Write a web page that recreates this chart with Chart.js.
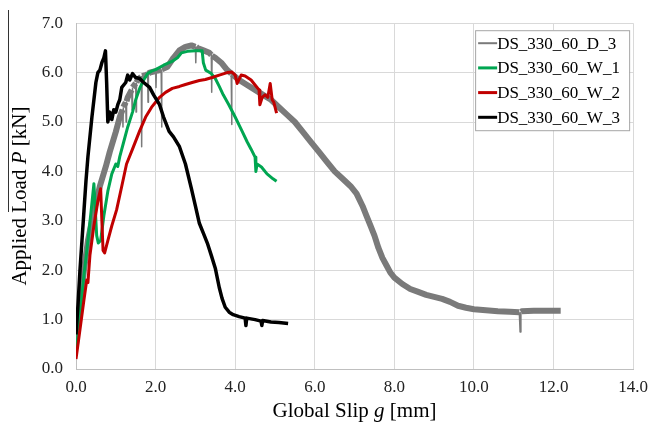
<!DOCTYPE html>
<html>
<head>
<meta charset="utf-8">
<script src="https://cdn.jsdelivr.net/npm/chart.js@4/dist/chart.umd.min.js"></script>
<style>
  body { margin: 0; background: #fff; }
  #chart { display: block; }
</style>
</head>
<body>
<canvas id="chart" width="656" height="427"></canvas>
<script>
// series names
var seriesNames = ['DS_330_60_D_3', 'DS_330_60_W_1', 'DS_330_60_W_2', 'DS_330_60_W_3'];
var seriesColors = ['#7a7a7a', '#00a651', '#c00000', '#000000'];

// DS_330_60_D_3 (grey, noisy band)
var slipD3 = [0, 0.1, 0.2, 0.3, 0.45, 0.6, 0.75, 0.85, 1.0, 1.1, 1.17, 1.18, 1.19, 1.25, 1.26, 1.27, 1.3, 1.4, 1.41, 1.42, 1.5, 1.51, 1.52, 1.55, 1.64, 1.65, 1.66, 1.75, 1.8, 1.81, 1.82, 1.85, 1.95, 2.0, 2.01, 2.02, 2.05, 2.14, 2.15, 2.16, 2.3, 2.45, 2.6, 2.75, 2.9, 3.0, 3.01, 3.02, 3.05, 3.2, 3.35, 3.4, 3.41, 3.42, 3.5, 3.65, 3.8, 3.9, 3.91, 3.92, 3.95, 4.1, 4.3, 4.5, 4.7, 4.9, 5.1, 5.3, 5.5, 5.7, 5.9, 6.1, 6.3, 6.5, 6.7, 6.9, 7.05, 7.2, 7.3, 7.4, 7.5, 7.6, 7.7, 7.8, 7.9, 8.0, 8.2, 8.4, 8.6, 8.8, 9.0, 9.2, 9.4, 9.6, 9.8, 10.0, 10.3, 10.6, 10.9, 11.14, 11.16, 11.18, 11.2, 11.5, 11.8, 12.18];
var loadD3 = [0.5, 1.3, 2.0, 2.6, 3.2, 3.7, 4.1, 4.4, 4.8, 5.1, 5.25, 4.9, 5.3, 5.4, 5.0, 5.42, 5.5, 5.65, 5.25, 5.7, 5.78, 5.2, 5.8, 5.85, 5.92, 4.5, 5.93, 5.95, 5.97, 5.4, 5.98, 6.0, 6.02, 6.03, 5.7, 6.03, 6.04, 6.05, 4.9, 6.07, 6.12, 6.3, 6.45, 6.52, 6.55, 6.52, 6.2, 6.52, 6.5, 6.45, 6.4, 6.36, 5.6, 6.34, 6.3, 6.2, 6.05, 5.98, 4.95, 5.97, 5.95, 5.85, 5.75, 5.65, 5.55, 5.45, 5.3, 5.15, 5.0, 4.8, 4.6, 4.4, 4.2, 4.0, 3.85, 3.7, 3.55, 3.3, 3.1, 2.9, 2.7, 2.45, 2.25, 2.1, 1.95, 1.85, 1.72, 1.62, 1.56, 1.5, 1.46, 1.42, 1.36, 1.28, 1.24, 1.21, 1.19, 1.17, 1.16, 1.15, 0.75, 1.16, 1.17, 1.18, 1.18, 1.18];

// DS_330_60_W_1 (green)
var slipW1 = [0, 0.1, 0.2, 0.3, 0.38, 0.45, 0.48, 0.52, 0.56, 0.62, 0.7, 0.8, 0.9, 1.0, 1.05, 1.1, 1.2, 1.3, 1.42, 1.5, 1.6, 1.7, 1.8, 1.9, 2.0, 2.2, 2.4, 2.55, 2.65, 2.8, 3.0, 3.17, 3.2, 3.26, 3.4, 3.5, 3.6, 3.7, 3.84, 4.0, 4.17, 4.3, 4.4, 4.5, 4.52, 4.55, 4.66, 4.8, 4.95, 5.04];
var loadW1 = [0.3, 1.1, 1.9, 2.6, 3.2, 3.75, 3.3, 2.7, 2.55, 2.6, 3.1, 3.6, 3.95, 4.15, 4.1, 4.3, 4.6, 4.9, 5.2, 5.45, 5.68, 5.85, 5.98, 6.03, 6.06, 6.15, 6.22, 6.3, 6.4, 6.43, 6.44, 6.44, 6.2, 6.05, 5.98, 5.88, 5.72, 5.55, 5.35, 5.1, 4.82, 4.6, 4.45, 4.29, 4.0, 4.15, 4.09, 3.95, 3.85, 3.8];

// DS_330_60_W_2 (red)
var slipW2 = [0, 0.1, 0.2, 0.27, 0.3, 0.35, 0.45, 0.55, 0.62, 0.65, 0.68, 0.72, 0.8, 0.9, 1.02, 1.15, 1.27, 1.42, 1.6, 1.75, 1.9, 2.0, 2.1, 2.25, 2.42, 2.6, 2.75, 2.92, 3.1, 3.25, 3.42, 3.6, 3.8, 3.92, 4.0, 4.05, 4.15, 4.25, 4.4, 4.5, 4.6, 4.62, 4.68, 4.75, 4.82, 4.88, 4.93, 4.97, 5.04];
var loadW2 = [0.2, 0.8, 1.4, 1.8, 1.75, 2.3, 2.9, 3.4, 3.65, 3.0, 2.4, 2.35, 2.6, 2.9, 3.22, 3.7, 4.15, 4.45, 4.82, 5.1, 5.3, 5.4, 5.5, 5.6, 5.68, 5.72, 5.76, 5.8, 5.84, 5.86, 5.9, 5.95, 6.0, 6.01, 5.95, 5.78, 5.95, 5.93, 5.85, 5.75, 5.65, 5.35, 5.5, 5.55, 5.5, 5.78, 5.45, 5.4, 5.18];

// DS_330_60_W_3 (black)
var slipW3 = [0, 0.05, 0.1, 0.15, 0.2, 0.25, 0.3, 0.4, 0.5, 0.55, 0.6, 0.65, 0.7, 0.74, 0.77, 0.8, 0.85, 0.9, 0.95, 1.0, 1.05, 1.1, 1.15, 1.25, 1.3, 1.35, 1.42, 1.5, 1.6, 1.7, 1.85, 1.95, 2.1, 2.2, 2.34, 2.45, 2.6, 2.75, 2.9, 3.0, 3.1, 3.2, 3.3, 3.4, 3.5, 3.6, 3.67, 3.75, 3.85, 3.95, 4.1, 4.25, 4.27, 4.29, 4.5, 4.65, 4.67, 4.69, 4.9, 5.1, 5.33];
var loadW3 = [0.7, 1.3, 2.0, 2.6, 3.2, 3.8, 4.3, 5.1, 5.8, 6.0, 6.05, 6.2, 6.3, 6.44, 5.8, 5.0, 5.2, 5.05, 5.25, 5.2, 5.35, 5.45, 5.7, 5.8, 5.95, 5.85, 5.98, 5.9, 5.88, 5.8, 5.7, 5.55, 5.35, 5.1, 4.81, 4.7, 4.5, 4.15, 3.65, 3.3, 2.95, 2.75, 2.55, 2.3, 2.04, 1.65, 1.43, 1.25, 1.15, 1.1, 1.06, 1.03, 0.88, 1.03, 1.0, 0.97, 0.88, 0.98, 0.95, 0.94, 0.92];

// axis ticks
var xTicks = [0, 2, 4, 6, 8, 10, 12, 14];
var yTicks = [0, 1, 2, 3, 4, 5, 6, 7];

var serif = '"Liberation Serif", "Times New Roman", serif';

function toPoints(xs, ys) {
    return xs.map(function(x, i) { return { x: x, y: ys[i] }; });
}

var allSlip = [slipD3, slipW1, slipW2, slipW3];
var allLoad = [loadD3, loadW1, loadW2, loadW3];
var widths = [6, 3, 3, 3.5];

// narrow the short vertical drop-outs of the grey trace
function spikeWidth(ctx) {
    var dx = Math.abs(ctx.p1.parsed.x - ctx.p0.parsed.x);
    var dy = Math.abs(ctx.p1.parsed.y - ctx.p0.parsed.y);
    return (dx < 0.025 && dy > 0.25) ? 1.5 : undefined;
}

var datasets = seriesNames.map(function(name, i) {
    var ds = {
        label: name,
        data: toPoints(allSlip[i], allLoad[i]),
        borderColor: seriesColors[i],
        backgroundColor: seriesColors[i],
        borderWidth: widths[i],
        borderJoinStyle: 'round',
        showLine: true,
        pointRadius: 0,
        tension: 0,
        order: 4 - i
    };
    if (i === 0) ds.segment = { borderWidth: spikeWidth };
    return ds;
});

// legend box + axis titles with italic symbols
var extras = {
    id: 'extras',
    afterDraw: function(chart) {
        var ctx = chart.ctx;
        var area = chart.chartArea;
        ctx.save();

        // legend box
        var bw = 154, bh = 100;
        var bx = area.right - 4 - bw, by = area.top + 7;
        ctx.fillStyle = '#fff';
        ctx.fillRect(bx, by, bw, bh);
        ctx.strokeStyle = '#a6a6a6';
        ctx.lineWidth = 1;
        ctx.strokeRect(bx + 0.5, by + 0.5, bw, bh);
        ctx.font = '17px ' + serif;
        ctx.textBaseline = 'middle';
        ctx.textAlign = 'left';
        seriesNames.forEach(function(name, i) {
            var yy = by + 13 + i * 24.7;
            ctx.strokeStyle = seriesColors[i];
            ctx.lineWidth = i === 0 ? 2 : 3;
            ctx.beginPath();
            ctx.moveTo(bx + 3, yy);
            ctx.lineTo(bx + 22, yy);
            ctx.stroke();
            ctx.fillStyle = '#000';
            ctx.fillText(name, bx + 22, yy + 1);
        });

        // axis titles
        function drawParts(parts, cx, cy) {
            var total = 0;
            parts.forEach(function(p) {
                ctx.font = (p[1] ? 'italic ' : '') + '21px ' + serif;
                total += ctx.measureText(p[0]).width;
            });
            var x = cx - total / 2;
            parts.forEach(function(p) {
                ctx.font = (p[1] ? 'italic ' : '') + '21px ' + serif;
                ctx.fillText(p[0], x, cy);
                x += ctx.measureText(p[0]).width;
            });
        }
        ctx.fillStyle = '#000';
        ctx.textBaseline = 'middle';
        drawParts([['Global Slip ', false], ['g', true], [' [mm]', false]], (area.left + area.right) / 2, 411);

        ctx.save();
        ctx.translate(20, (area.top + area.bottom) / 2);
        ctx.rotate(-Math.PI / 2);
        drawParts([['Applied Load ', false], ['P', true], [' [kN]', false]], 0, 0);
        ctx.restore();

        // thin rule left of the y title
        ctx.strokeStyle = '#333';
        ctx.lineWidth = 1;
        ctx.beginPath();
        ctx.moveTo(8.5, 10);
        ctx.lineTo(8.5, 212);
        ctx.stroke();

        ctx.restore();
    }
};

new Chart(document.getElementById('chart').getContext('2d'), {
    type: 'scatter',
    data: { datasets: datasets },
    options: {
        responsive: false,
        animation: false,
        layout: { padding: { left: 0, top: 17, right: 18, bottom: 0 } },
        plugins: {
            legend: { display: false },
            tooltip: { enabled: false }
        },
        scales: {
            x: {
                type: 'linear',
                min: 0,
                max: 14,
                afterFit: function(s) { s.height = 58; },
                afterBuildTicks: function(s) { s.ticks = xTicks.map(function(v) { return { value: v }; }); },
                grid: { color: '#d9d9d9', drawTicks: false },
                border: { color: '#bfbfbf' },
                ticks: {
                    padding: 8,
                    color: '#222',
                    font: { family: serif, size: 17 },
                    callback: function(v) { return Number(v).toFixed(1); }
                }
            },
            y: {
                type: 'linear',
                min: 0,
                max: 7,
                afterFit: function(s) { s.width = 76; },
                afterBuildTicks: function(s) { s.ticks = yTicks.map(function(v) { return { value: v }; }); },
                grid: { color: '#d9d9d9', drawTicks: false },
                border: { color: '#bfbfbf' },
                ticks: {
                    padding: 13,
                    color: '#222',
                    font: { family: serif, size: 17 },
                    callback: function(v) { return Number(v).toFixed(1); }
                }
            }
        }
    },
    plugins: [extras]
});
</script>
</body>
</html>
